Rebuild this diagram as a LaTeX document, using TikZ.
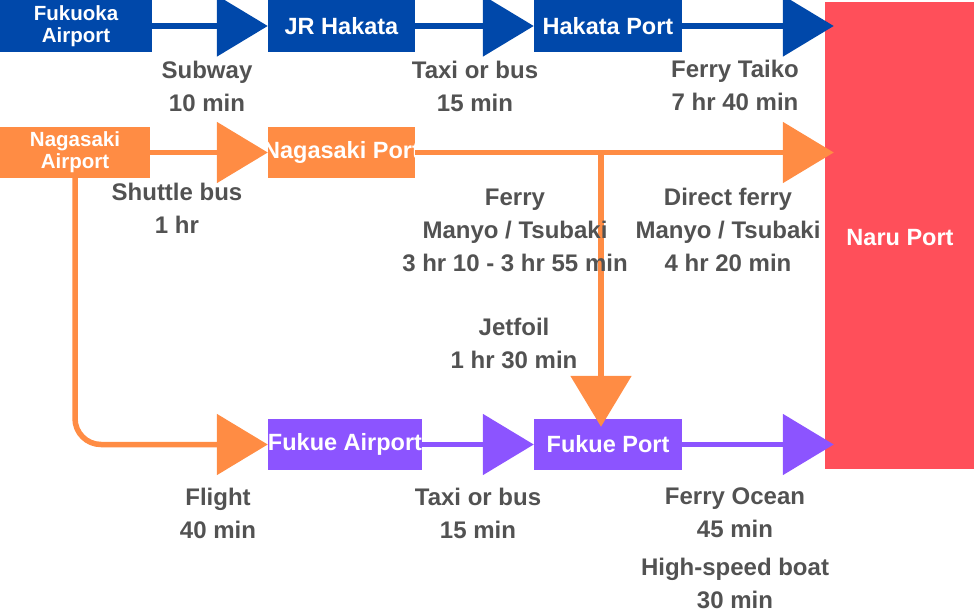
\documentclass[tikz,border=0pt]{standalone}
\usepackage{fontspec}
\setmainfont{Liberation Sans}
\usetikzlibrary{arrows.meta}
\definecolor{cblue}{RGB}{0,72,170}
\definecolor{corange}{RGB}{255,140,68}
\definecolor{cpurple}{RGB}{140,84,255}
\definecolor{cred}{RGB}{255,79,90}
\definecolor{cgray}{RGB}{82,82,82}
\begin{document}
\begin{tikzpicture}[x=1pt,y=-1pt,
  box/.style={rectangle, inner sep=0pt, text=white, font=\bfseries\fontsize{23.5}{24}\selectfont},
  twoline/.style={font=\bfseries\fontsize{20.5}{22}\selectfont, align=center},
  lbl/.style={font=\bfseries\fontsize{24}{33}\selectfont, text=cgray, align=center, inner sep=0pt},
  conn/.style={line width=5.5pt, -{Triangle[length=51pt,width=60pt]}},
]
\useasboundingbox (0,0) rectangle (974,612);
% destination
\node[box, fill=cred, minimum width=149pt, minimum height=467pt] (naru) at (899.5,235.5) {};
\node[box] (narut) at (900,238) {Naru Port};
% blue row
\node[box, twoline, fill=cblue, minimum width=152pt, minimum height=52pt] (fuk) at (76,26) {Fukuoka\\Airport};
\node[box, fill=cblue, minimum width=147pt, minimum height=52pt] (jrh) at (341.5,26) {JR Hakata};
\node[box, fill=cblue, minimum width=148pt, minimum height=52pt] (hkp) at (608,26) {Hakata Port};
% orange row
\node[box, twoline, fill=corange, minimum width=150pt, minimum height=51pt] (nga) at (75,152.5) {Nagasaki\\Airport};
\node[box, fill=corange, minimum width=147pt, minimum height=51pt] (ngp) at (341.5,152.5) {\makebox[0pt]{Nagasaki Port}};
% purple row
\node[box, fill=cpurple, minimum width=154pt, minimum height=51pt] (fka) at (345,444.5) {\makebox[0pt]{Fukue Airport}};
\node[box, fill=cpurple, minimum width=148pt, minimum height=51pt] (fkp) at (608,444.5) {Fukue Port};
\coordinate (br) at (601,152.5);
% connectors
\draw[conn, cblue] (fuk.east) -- (jrh.west);
\draw[conn, cblue] (jrh.east) -- (hkp.west);
\draw[conn, cblue, shorten >=-9pt] (hkp.east) -- (hkp.east -| naru.west);
\draw[conn, corange] (nga.east) -- (ngp.west);
\draw[conn, corange, shorten >=-9pt] (ngp.east) -- (ngp.east -| naru.west);
\draw[conn, corange, shorten >=-8pt] (br) -- (br |- fkp.north);
\draw[conn, corange, rounded corners=26pt] (nga.south) |- (fka.west);
\draw[conn, cpurple] (fka.east) -- (fkp.west);
\draw[conn, cpurple, shorten >=-9pt] (fkp.east) -- (fkp.east -| naru.west);
% labels
\node[lbl] (l1) at (207,86) {Subway\\10 min};
\node[lbl] (l2) at (475,86) {Taxi or bus\\15 min};
\node[lbl] (l3) at (735,85) {Ferry Taiko\\7 hr 40 min};
\node[lbl] (l4) at (177,208) {Shuttle bus\\1 hr};
\node[lbl] (l5) at (515,230) {Ferry\\Manyo / Tsubaki\\3 hr 10 - 3 hr 55 min};
\node[lbl] (l6) at (728,230) {Direct ferry\\Manyo / Tsubaki\\4 hr 20 min};
\node[lbl] (l7) at (514,343) {Jetfoil\\1 hr 30 min};
\node[lbl] (l8) at (218,513) {Flight\\40 min};
\node[lbl] (l9) at (478,513) {Taxi or bus\\15 min};
\node[lbl] (l10) at (735,513) {Ferry Ocean\\45 min};
\node[lbl] (l11) at (735,583) {High-speed boat\\30 min};
\end{tikzpicture}
\end{document}
